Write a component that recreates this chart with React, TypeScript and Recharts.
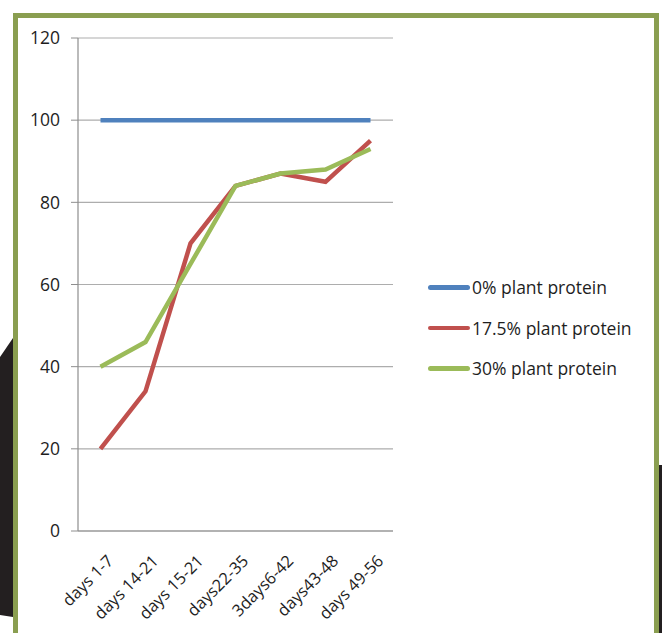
import { LineChart, Line, XAxis, YAxis, CartesianGrid } from 'recharts'

const periods = ['days 1-7', 'days 14-21', 'days 15-21', 'days22-35', '3days6-42', 'days43-48', 'days 49-56']
const protein0 = [100, 100, 100, 100, 100, 100, 100]
const protein175 = [20, 34, 70, 84, 87, 85, 95]
const protein30 = [40, 46, 65, 84, 87, 88, 93]
const yTicks = [0, 20, 40, 60, 80, 100, 120]
const boundaryTicks = [0, 1, 2, 3, 4, 5, 6, 7]

const series = [
  { key: 'p0', name: '0% plant protein', color: '#4F81BD' },
  { key: 'p175', name: '17.5% plant protein', color: '#C0504D' },
  { key: 'p30', name: '30% plant protein', color: '#9BBB59' },
]

const data = periods.map((name, i) => ({ name, p0: protein0[i], p175: protein175[i], p30: protein30[i] }))

const font = '"Open Sans", sans-serif'

function XTick({ x, y, payload }: any) {
  return (
    <g transform={`translate(${x + 14},${y + 23})`}>
      <text textAnchor="end" transform="rotate(-45)" fontSize={16.5} fontFamily={font} fill="#1E1E1E">
        {payload.value}
      </text>
    </g>
  )
}

export default function App() {
  return (
    <div style={{ position: 'absolute', left: 0, top: 0, width: 662, height: 633, overflow: 'hidden', background: '#fff' }}>
      {/* background decoration */}
      <svg width={662} height={633} style={{ position: 'absolute', left: 0, top: 0 }}>
        <polygon points="0,357 13,338 13,617 0,615" fill="#231F20" />
        <polygon points="659,465 662,465 662,633 659,633" fill="#231F20" />
      </svg>
      <div style={{ position: 'absolute', left: 13, top: 13, width: 646, height: 640, boxSizing: 'border-box', border: '5px solid #8A9E50', background: '#fff' }} />

      <div style={{ position: 'absolute', left: 0, top: 0 }}>
        <LineChart width={662} height={633} data={data} margin={{ top: 38, right: 269, bottom: 0, left: 0 }}>
          <CartesianGrid vertical={false} stroke="#ADADAD" strokeWidth={1.2} />
          <XAxis xAxisId="b" type="number" domain={[0, 7]} ticks={boundaryTicks} tick={false} axisLine={false}
            tickLine={{ stroke: '#8E8E8E' }} tickSize={5} height={0} />
          <XAxis dataKey="name" interval={0} padding={{ left: 22.5, right: 22.5 }} height={102}
            axisLine={{ stroke: '#8E8E8E', strokeWidth: 1.2 }} tickLine={false} tick={<XTick />} />
          <YAxis domain={[0, 120]} ticks={yTicks} width={78} tickSize={7} tickMargin={11}
            axisLine={{ stroke: '#8E8E8E', strokeWidth: 1.2 }} tickLine={{ stroke: '#8E8E8E' }}
            tick={{ fill: '#1E1E1E', fontSize: 17.5, fontFamily: font }} />
          {series.map(s => (
            <Line key={s.key} dataKey={s.key} name={s.name} stroke={s.color} strokeWidth={4.5}
              dot={false} activeDot={false} isAnimationActive={false} />
          ))}
        </LineChart>
      </div>

      <div style={{ position: 'absolute', left: 428, top: 267, fontFamily: font, fontSize: 17.5, color: '#1E1E1E' }}>
        {series.map(s => (
          <div key={s.key} style={{ display: 'flex', alignItems: 'center', height: 40.5 }}>
            <span style={{ display: 'inline-block', width: 42, height: 4.5, borderRadius: 3, background: s.color, marginRight: 2 }} />
            <span style={{ whiteSpace: 'nowrap' }}>{s.name}</span>
          </div>
        ))}
      </div>
    </div>
  )
}
